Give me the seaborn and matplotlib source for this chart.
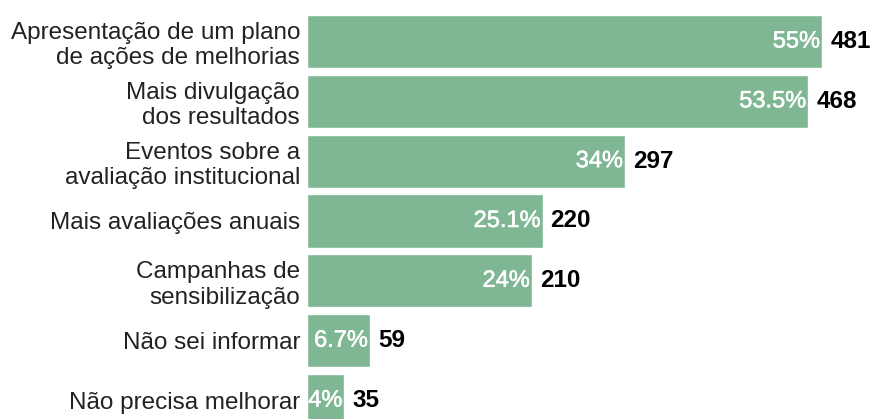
import matplotlib
matplotlib.use("Agg")
import matplotlib.pyplot as plt
import matplotlib.patheffects as pe
import seaborn as sns
import pandas as pd

categories = [
    "Apresentação de um plano\nde ações de melhorias",
    "Mais divulgação\ndos resultados",
    "Eventos sobre a\navaliação institucional",
    "Mais avaliações anuais",
    "Campanhas de\nsensibilização",
    "Não sei informar",
    "Não precisa melhorar",
]
counts = [481, 468, 297, 220, 210, 59, 35]
percents = ["55%", "53.5%", "34%", "25.1%", "24%", "6.7%", "4%"]

df = pd.DataFrame({"categoria": categories, "n": counts})

sns.set_style("white")
plt.rcParams["font.family"] = ["Liberation Sans", "DejaVu Sans"]

fig = plt.figure(figsize=(8.71, 4.19), dpi=100)
ax = fig.add_axes([307 / 871, 0, 564 / 871, 1])

sns.barplot(data=df, x="n", y="categoria", orient="h", color="#7fb794",
            saturation=1, width=0.89, ax=ax)

ax.set_xlim(0, 526.6)
ax.set_ylim(6.31, -0.694)

for i, (c, p) in enumerate(zip(counts, percents)):
    ax.annotate(p, (c, i), xytext=(-2, 0), textcoords="offset pixels",
                ha="right", va="center", color="white", fontsize=17,
                path_effects=[pe.withStroke(linewidth=0.4, foreground="white")])
    ax.annotate(str(c), (c, i), xytext=(8, 0), textcoords="offset pixels",
                ha="left", va="center", color="black", fontsize=17.5,
                fontweight="bold")

ax.set_xlabel("")
ax.set_ylabel("")
ax.set_xticks([])
ax.tick_params(axis="y", length=0, pad=5, labelsize=17.5, labelcolor="#222222")
for lab in ax.get_yticklabels():
    lab.set_linespacing(1.2)
sns.despine(ax=ax, left=True, bottom=True)

fig.savefig("out.png", dpi=100)
